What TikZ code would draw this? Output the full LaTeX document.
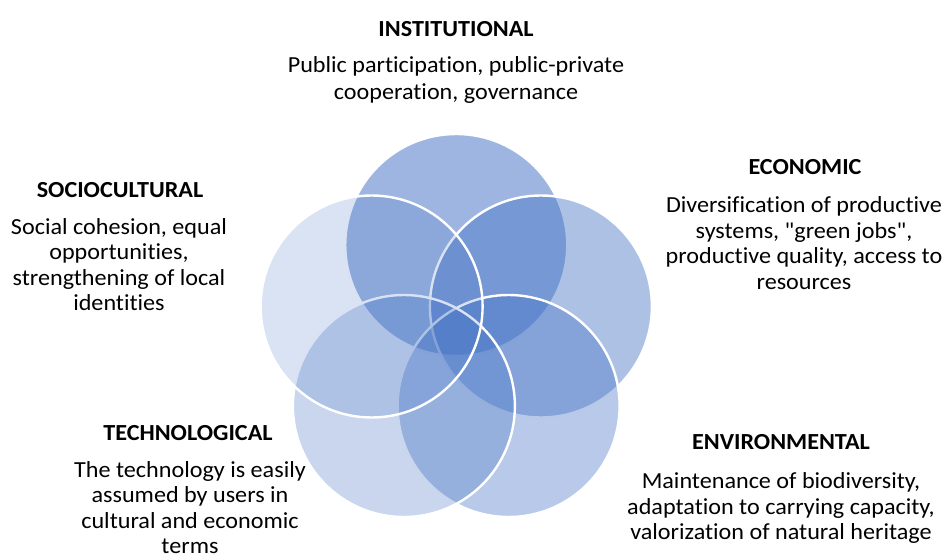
\documentclass[tikz,border=0pt]{standalone}
\usepackage{fontspec}
\setmainfont{Carlito}[Ligatures={TeXOff,CommonOff}, FakeStretch=1.05]
\definecolor{accent}{HTML}{4472C4}
\begin{document}
\begin{tikzpicture}[x=1pt,y=-1pt,
  petal/.style={circle, minimum size=222pt, inner sep=0pt, fill=accent, draw=white, line width=2.4pt},
  head/.style={font=\fontsize{23}{26}\selectfont\bfseries, inner sep=0pt},
  body/.style={font=\fontsize{23}{25.5}\selectfont, align=center, inner sep=0pt},
  bodywide/.style={font=\fontsize{23}{26.5}\selectfont, align=center, inner sep=0pt}]
\useasboundingbox (0,0) rectangle (946,556);
\node[petal, fill opacity=0.52] (inst) at (456.25,245) {};
\node[petal, fill opacity=0.44] (econ) at (540.9,306.5) {};
\node[petal, fill opacity=0.38] (env) at (508.6,406) {};
\node[petal, fill opacity=0.29] (tech) at (403.9,406) {};
\node[petal, fill opacity=0.20] (soc) at (371.6,306.5) {};

\node[head] (insth) at (456,29) {INSTITUTIONAL};
\node[bodywide] (instb) at (456,80) {Public participation, public-private\\cooperation, governance};

\node[head] (soch) at (120,190) {SOCIOCULTURAL};
\node[body] (socb) at (119,264.5) {Social cohesion, equal\\opportunities,\\strengthening of local\\identities};

\node[head] (econh) at (805,167) {ECONOMIC};
\node[body] (econb) at (804,243) {Diversification of productive\\systems, "green jobs",\\productive quality, access to\\resources};

\node[head] (techh) at (188,433) {TECHNOLOGICAL};
\node[body] (techb) at (190,507.5) {The technology is easily\\assumed by users in\\cultural and economic\\terms};

\node[head] (envh) at (781,442) {ENVIRONMENTAL};
\node[body] (envb) at (781,508) {Maintenance of biodiversity,\\adaptation to carrying capacity,\\valorization of natural heritage};
\end{tikzpicture}
\end{document}
